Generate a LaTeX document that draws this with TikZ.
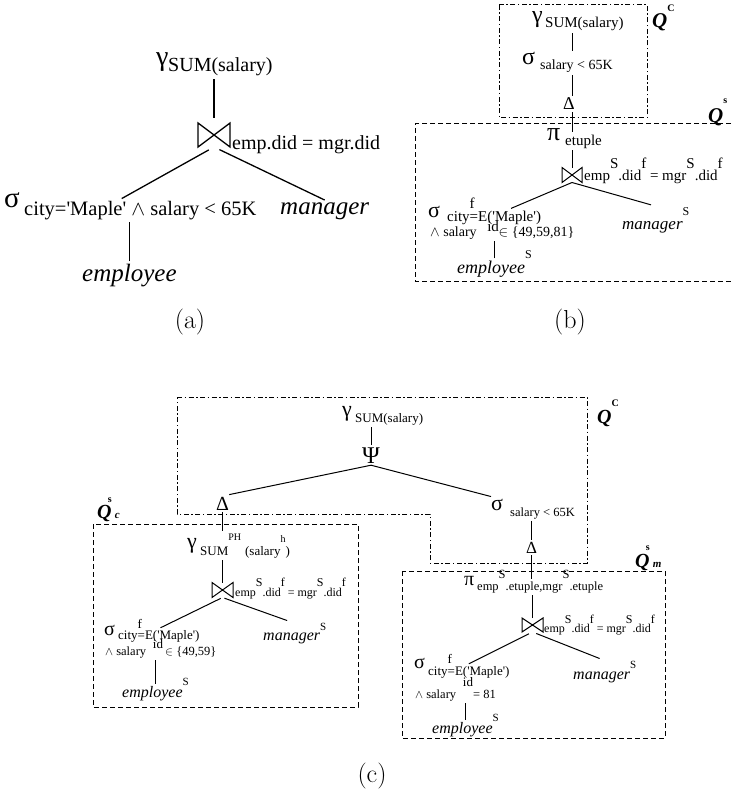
\documentclass[tikz,border=0pt]{standalone}
\usepackage{fontspec}
\usetikzlibrary{calc,positioning}
\newfontfamily\tm{Liberation Serif}
\newcommand{\fs}[1]{\fontsize{#1}{#1}\selectfont}
\newcommand{\hi}[2][0.8em]{\raisebox{#1}{#2}}
\newcommand{\hiz}[2][0.8em]{\smash{\raisebox{#1}{#2}}}
\newcommand{\hin}[2][0.8em]{\rlap{\smash{\raisebox{#1}{#2}}}}
\newcommand{\lo}[2][0.7em]{\rlap{\smash{\raisebox{-#1}{#2}}}}

\begin{document}
\begin{tikzpicture}[x=1pt,y=-1pt,
	txt/.style={anchor=base west,inner xsep=0pt,inner ysep=2pt,font=\tm},
	bowt/.style 2 args={inner sep=0pt,outer sep=0pt,minimum width=#1,minimum height=#2},
	ln/.style={line width=1pt},
	lnA/.style={line width=1.3pt},
	dd/.style={line width=1pt,dash pattern=on 5pt off 2.5pt on 1.5pt off 2.5pt},
	ds/.style={line width=1pt,dash pattern=on 5pt off 3pt},
	capt/.style={font=\fs{26}}]
\useasboundingbox (0,0) rectangle (731,797);

% (a)
\node[txt] (gA) at (156,66) {\fs{28}γ};
\node[txt] (gAs) at (168,72) {\fs{20}SUM(salary)};
\node[bowt={32pt}{24pt}] (jA) at (214,135) {};
\node[txt] (jAs) at (232,149) {\fs{20}emp.did = mgr.did};
\node[txt] (sA) at (4,207) {\fs{29}σ};
\node[txt] (sAs) at (24,215) {\fs{20.5}city='Maple' $\wedge$ salary < 65K};
\node[txt] (mA) at (280,214) {\fs{25}\itshape manager};
\node[txt] (eA) at (82,281) {\fs{25}\itshape employee};
\node[capt] (capA) at (190,322) {(a)};
\draw[lnA,shorten <=5pt] (jA.north) -- (jA.north |- gAs.south);
\draw[lnA,shorten <=6pt] (jA.south) -- ($(sAs.north west)!.42!(sAs.north east)$);
\draw[lnA,shorten <=6pt] (jA.south) -- (mA.north);
\draw[lnA] (eA.north) -- (eA.north |- sAs.south);

% (b)
\draw[dd] (499,5) rectangle (647,118);
\draw[ds] (731,124) -- (415,124) -- (415,281) -- (731,281);
\node[txt] (qcB) at (652,28) {\fs{21}\bfseries\itshape Q\hi[16pt]{\fs{10}\upshape C}};
\node[txt] (qsB) at (708,123) {\fs{21}\bfseries\itshape Q\hi[20pt]{\fs{10}\upshape s}};
\node[txt] (gB) at (532,23) {\fs{24}γ};
\node[txt] (gBs) at (545,28) {\fs{15}SUM(salary)};
\node[txt] (sB1) at (522,65) {\fs{24}σ};
\node[txt] (sB1s) at (540,70) {\fs{14}salary < 65K};
\node[txt] (dB) at (563,110) {\fs{18}Δ};
\node[txt] (pB) at (547,140) {\fs{26}π};
\node[txt] (pBs) at (565,145) {\fs{15}etuple};
\node[bowt={20pt}{15pt}] (jB) at (572,175) {};
\node[txt] (jBs) at (584,180) {\fs{15}emp\hi[12pt]{S}.did\hi[12pt]{f} = mgr\hi[12pt]{S}.did\hi[12pt]{f}};
\node[txt] (sB) at (428,217) {\fs{22}σ};
\node[txt] (sBs) at (447,221) {\fs{15}city\hin[13pt]{f}=E\lo[10pt]{id}('Maple')};
\node[txt] (sB2) at (430,236) {\fs{14}$\wedge$ salary\hspace{22pt}$\in$ \{49,59,81\}};
\node[txt] (mB) at (622,229) {\fs{17}\itshape manager\hi[14pt]{\fs{12}\upshape S}};
\node[txt] (eB) at (457,273) {\fs{18}\itshape employee\hiz[15pt]{\fs{12}\upshape S}};
\node[capt] (capB) at (570,322) {(b)};
\draw[ln] (gBs.south -| jB) -- (sB1.north -| jB);
\draw[ln] (sB1s.south -| jB) -- (dB.north -| jB);
\draw[ln] (dB.south -| jB) -- (pBs.north -| jB);
\draw[ln] (jB.north) -- (jB.north |- pBs.south);
\draw[ln] (jB.south) -- ($(sBs.north west)!.68!(sBs.north east)$);
\draw[ln] (jB.south) -- ($(mB.north west)!.43!(mB.north east)$);
\draw[ln] (eB.north) -- (eB.north |- sB2.south);

% (c)
\draw[dd] (177,397) -- (587,397) -- (587,563) -- (430,563) -- (430,514) -- (177,514) -- cycle;
\draw[ds] (93,524) rectangle (358,707);
\draw[ds] (402,571) rectangle (665,738);
\node[txt] (qcC) at (597,423) {\fs{20}\bfseries\itshape Q\hi[17pt]{\fs{10}\upshape C}};
\node[txt] (qcL) at (97,518) {\fs{20}\bfseries\itshape Q\llap{\hiz[16pt]{\fs{10}\upshape s}}\,\fs{11}c};
\node[txt] (qmR) at (635,567) {\fs{20}\bfseries\itshape Q\llap{\hiz[17pt]{\fs{10}\upshape s}}\,\fs{11}m};
\node[txt] (gC) at (342,416) {\fs{22}γ};
\node[txt] (gCs) at (355,422) {\fs{13}SUM(salary)};
\node[txt] (psiC) at (362,463) {\fs{24}Ψ};
\node[txt] (dCl) at (216,510) {\fs{20}Δ};
\node[txt] (sCr) at (491,510) {\fs{22}σ};
\node[txt] (sCrs) at (510,516) {\fs{12.5}salary < 65K};
\node[txt] (dCr) at (526,553) {\fs{17}Δ};
\node[txt] (gL) at (187,548) {\fs{22}γ};
\node[txt] (gLs) at (200,555) {\fs{13}SUM\hi[15pt]{\fs{10}PH}\hspace{4pt}(salary\hi[13pt]{\fs{10}h})};
\node[bowt={21pt}{15pt}] (jL) at (222.5,590) {};
\node[txt] (jLs) at (235,596) {\fs{12}emp\hi[10pt]{S}.did\hi[10pt]{f} = mgr\hi[10pt]{S}.did\hi[10pt]{f}};
\node[txt] (sL) at (104,635) {\fs{20}σ};
\node[txt] (sLs) at (118,639) {\fs{13}city\hin[11pt]{f}=E\lo[9pt]{id}('Maple')};
\node[txt] (sL2) at (105,655) {\fs{12.5}$\wedge$ salary\hspace{19pt}$\in$ \{49,59\}};
\node[txt] (mL) at (263,640) {\fs{16}\itshape manager\hi[10pt]{\fs{11}\upshape S}};
\node[txt] (eL) at (122,697) {\fs{16}\itshape employee\hiz[12pt]{\fs{11}\upshape S}};
\node[txt] (pR) at (464,585) {\fs{20}π};
\node[txt] (pRs) at (477,590) {\fs{12.5}emp\hiz[12pt]{S}.etuple,mgr\hiz[12pt]{S}.etuple};
\node[bowt={21pt}{14pt}] (jR) at (532.5,625) {};
\node[txt] (jRs) at (544,632) {\fs{12}emp\hi[9pt]{S}.did\hi[9pt]{f} = mgr\hi[9pt]{S}.did\hi[9pt]{f}};
\node[txt] (sR) at (414,668) {\fs{20}σ};
\node[txt] (sRs) at (428,675) {\fs{13}city\hin[12pt]{f}=E\lo[11pt]{id}('Maple')};
\node[txt] (sR2) at (415,698) {\fs{12.5}$\wedge$ salary\hspace{17pt}= 81};
\node[txt] (mR) at (573,679) {\fs{16}\itshape manager\hi[11pt]{\fs{11}\upshape S}};
\node[txt] (eR) at (432,733) {\fs{16}\itshape employee\hiz[12pt]{\fs{11}\upshape S}};
\node[capt] (capC) at (372,776) {(c)};
\draw[ln] (psiC.north) -- (psiC.north |- gCs.south);
\draw[ln] (psiC.south) -- (dCl.north east);
\draw[ln] (psiC.south) -- (sCr.north west);
\draw[ln] (sCrs.south -| dCr) -- (dCr.north);
\draw[ln] (dCr.south) -- (dCr.south |- pRs.north);
\draw[ln] (dCl.south) -- (dCl.south |- gLs.north);
\draw[ln] (jL.north) -- (jL.north |- gLs.south);
\draw[ln,shorten <=2pt] (jL.south) -- ($(sLs.north west)!.52!(sLs.north east)$);
\draw[ln,shorten <=2pt] (jL.south) -- ($(mL.north west)!.38!(mL.north east)$);
\draw[ln] (eL.north) -- (eL.north |- sL2.south);
\draw[ln] (jR.north) -- (jR.north |- pRs.south);
\draw[ln,shorten <=4pt] (jR.south) -- ($(sRs.north west)!.5!(sRs.north east)$);
\draw[ln,shorten <=4pt] (jR.south) -- ($(mR.north west)!.42!(mR.north east)$);
\draw[ln] (eR.north) -- (eR.north |- sR2.south);

\foreach \j/\w in {jA/1.3,jB/1,jL/1,jR/1}
	\draw[line width=\w pt] (\j.north west) -- (\j.south west) -- (\j.north east) -- (\j.south east) -- cycle;
\end{tikzpicture}
\end{document}
